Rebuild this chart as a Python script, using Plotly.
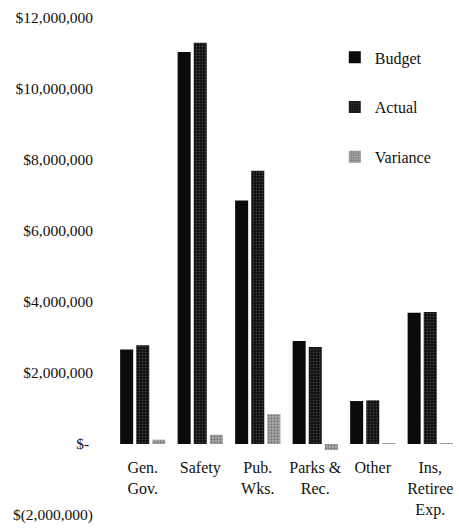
import plotly.graph_objects as go

# Department spending: budget vs. actual, with variance (actual - budget)
categories = ["Gen.<br>Gov.", "Safety", "Pub.<br>Wks.", "Parks &<br>Rec.", "Other", "Ins,<br>Retiree<br>Exp."]
budget = [2660000, 11040000, 6860000, 2900000, 1210000, 3700000]
actual = [2780000, 11300000, 7700000, 2730000, 1230000, 3720000]
variance = [120000, 260000, 840000, -170000, 20000, 20000]

tick_vals = [-2000000, 0, 2000000, 4000000, 6000000, 8000000, 10000000, 12000000]
tick_text = ["$(2,000,000)", "$-\u00a0", "$2,000,000", "$4,000,000", "$6,000,000",
             "$8,000,000", "$10,000,000", "$12,000,000"]

FONT = "Liberation Serif"

fig = go.Figure()
fig.add_trace(go.Bar(
    name="Budget", x=categories, y=budget, legendgroup="b",
    marker=dict(color="#0b0b0b", line=dict(width=0)),
))
fig.add_trace(go.Bar(
    name="Actual", x=categories, y=actual, legendgroup="a",
    marker=dict(color="#141414", line=dict(width=0),
                pattern=dict(shape=".", fgcolor="#7a7a7a", bgcolor="#141414",
                             size=3, solidity=0.2)),
))
fig.add_trace(go.Bar(
    name="Variance", x=categories, y=variance, legendgroup="v",
    marker=dict(color="#8c8c8c", line=dict(width=0),
                pattern=dict(shape=".", fgcolor="#3a3a3a", bgcolor="#b0b0b0",
                             size=3, solidity=0.45)),
))

fig.update_layout(
    width=459, height=531,
    margin=dict(l=114, r=0, t=18, b=16),
    paper_bgcolor="white", plot_bgcolor="white",
    barmode="group", bargap=0.16, bargroupgap=0.19,
    font=dict(family=FONT, size=15, color="#111"),
    showlegend=True,
    legend=dict(x=0.64, y=0.955, xanchor="left", yanchor="top",
                bgcolor="rgba(0,0,0,0)", tracegroupgap=26,
                traceorder="grouped", itemwidth=30,
                font=dict(family=FONT, size=16, color="#111")),
    xaxis=dict(anchor="free", position=2 / 14, showline=False, ticks="",
               showgrid=False, zeroline=False, ticklabelstandoff=12,
               tickfont=dict(family=FONT, size=16)),
    yaxis=dict(range=[-2000000, 12000000], tickvals=tick_vals, ticktext=tick_text,
               showgrid=False, zeroline=False, showline=False, ticks="",
               ticklabelstandoff=20, tickfont=dict(family=FONT, size=15.5)),
)

fig.write_html("out.html")
